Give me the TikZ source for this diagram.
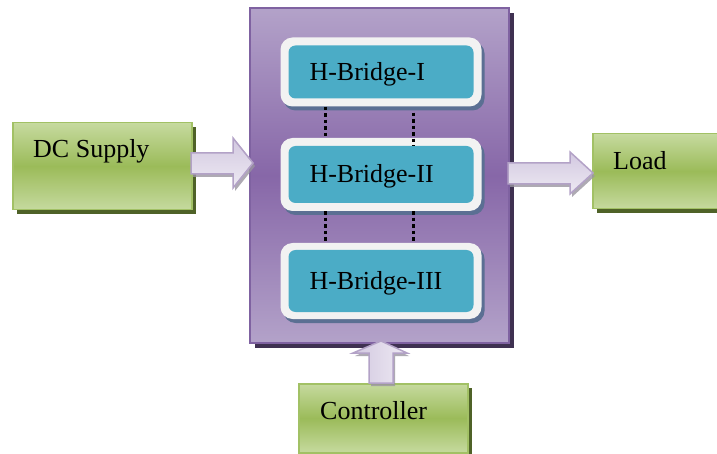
\documentclass[tikz,border=0pt]{standalone}
\usepackage{fontspec}
\setmainfont{Liberation Serif}
\usetikzlibrary{shadows,calc}
\definecolor{purpleL}{HTML}{B3A2C9}
\definecolor{purpleD}{HTML}{8767A8}
\definecolor{purpleB}{HTML}{7F62A1}
\definecolor{purpleS}{HTML}{3F3151}
\definecolor{greenL}{HTML}{C6DA9F}
\definecolor{greenD}{HTML}{9BBB59}
\definecolor{greenB}{HTML}{A2C165}
\definecolor{greenS}{HTML}{4F6228}
\definecolor{tealC}{HTML}{4BACC6}
\definecolor{frameC}{HTML}{F2F2F2}
\definecolor{frameS}{HTML}{5B6F93}
\definecolor{arrL}{HTML}{EEEAF3}
\definecolor{arrD}{HTML}{D2C8E0}
\definecolor{arrB}{HTML}{B3A2C7}
\definecolor{arrS}{HTML}{9A95A0}
\tikzset{
  txt/.style={font=\fontsize{26}{30}\selectfont, inner sep=0pt, text=black},
  mainbox/.style={draw=purpleB, line width=2pt, shading=axis, top color=purpleL, bottom color=purpleL, middle color=purpleD,
     drop shadow={shadow xshift=5pt, shadow yshift=-5pt, fill=purpleS, opacity=1}, minimum width=259pt, minimum height=335pt, inner sep=0pt, anchor=north west},
  greenbox/.style={draw=greenB, line width=1.5pt, shading=axis, top color=greenL, bottom color=greenL, middle color=greenD,
     drop shadow={shadow xshift=4pt, shadow yshift=-4pt, fill=greenS, opacity=1}, inner sep=0pt, anchor=north west},
  hframe/.style={fill=frameC, rounded corners=12pt, minimum width=201pt, inner sep=0pt,
     drop shadow={shadow xshift=3pt, shadow yshift=-4pt, fill=frameS, opacity=1}},
  hcore/.style={fill=tealC, rounded corners=7pt, minimum width=185pt, inner xsep=21pt, inner ysep=0pt,
     text width=143pt, align=left, text height=17pt, text depth=0pt, font=\fontsize{26}{30}\selectfont},
  dotline/.style={line width=3pt, dash pattern=on 3.5pt off 3pt},
  blockarrow/.style={draw=arrB, line width=1.5pt, shading=axis, top color=arrD, bottom color=arrL, shading angle=#1,
     drop shadow={shadow xshift=2pt, shadow yshift=-3pt, fill=arrS, opacity=0.8}},
  blockarrow/.default=0
}
\begin{document}
\begin{tikzpicture}[x=1pt,y=-1pt]
\useasboundingbox (0,0) rectangle (717,454);
\fill[white] (0,0) rectangle (717,454);

% main purple box
\node[mainbox] (main) at (249,7) {};

% H-bridges
\node[hframe, minimum height=69pt] (f1) at (381,72) {};
\node[hcore, minimum height=53pt] (hb1) at (f1.center) {H-Bridge-I};
\node[hframe, minimum height=73pt] (f2) at (381,174.5) {};
\node[hcore, minimum height=57pt] (hb2) at (f2.center) {H-Bridge-II};
\node[hframe, minimum height=76pt] (f3) at (381,281) {};
\node[hcore, minimum height=62pt] (hb3) at (f3.center) {H-Bridge-III};

% dotted links
\draw[dotline] ($(f1.south west)+(45,0)$) -- ($(f2.north west)+(45,0)$);
\draw[dotline] ($(f1.south west)+(133,6)$) -- ($(f2.north west)+(133,8)$);
\draw[dotline] ($(f2.south west)+(45,0)$) -- ($(f3.north west)+(45,0)$);
\draw[dotline] ($(f2.south west)+(133,0)$) -- ($(f3.north west)+(133,0)$);

% green boxes
\node[greenbox, minimum width=179pt, minimum height=87pt] (dc) at (12,122) {};
\node[txt, anchor=base west] (dctext) at (33,158) {DC Supply};
\node[greenbox, minimum width=126pt, minimum height=75pt] (load) at (592,133) {};
\node[txt, anchor=base west] (loadtext) at (613,170) {Load};
\node[greenbox, minimum width=169pt, minimum height=69pt] (ctrl) at (298,383) {};
\node[txt, anchor=base west] (ctrltext) at (320,419) {Controller};

% block arrows
\draw[blockarrow=0] (191,153) -- (233,153) -- (233,138) -- (253,163) -- (233,188) -- (233,174) -- (191,174) -- cycle;
\draw[blockarrow=0] (508,163) -- (570,163) -- (570,152) -- (593,173) -- (570,194) -- (570,184) -- (508,184) -- cycle;
\draw[blockarrow=90] (369,383) -- (369,353) -- (353,353) -- (381,341) -- (407,353) -- (393,353) -- (393,383) -- cycle;
\end{tikzpicture}
\end{document}
